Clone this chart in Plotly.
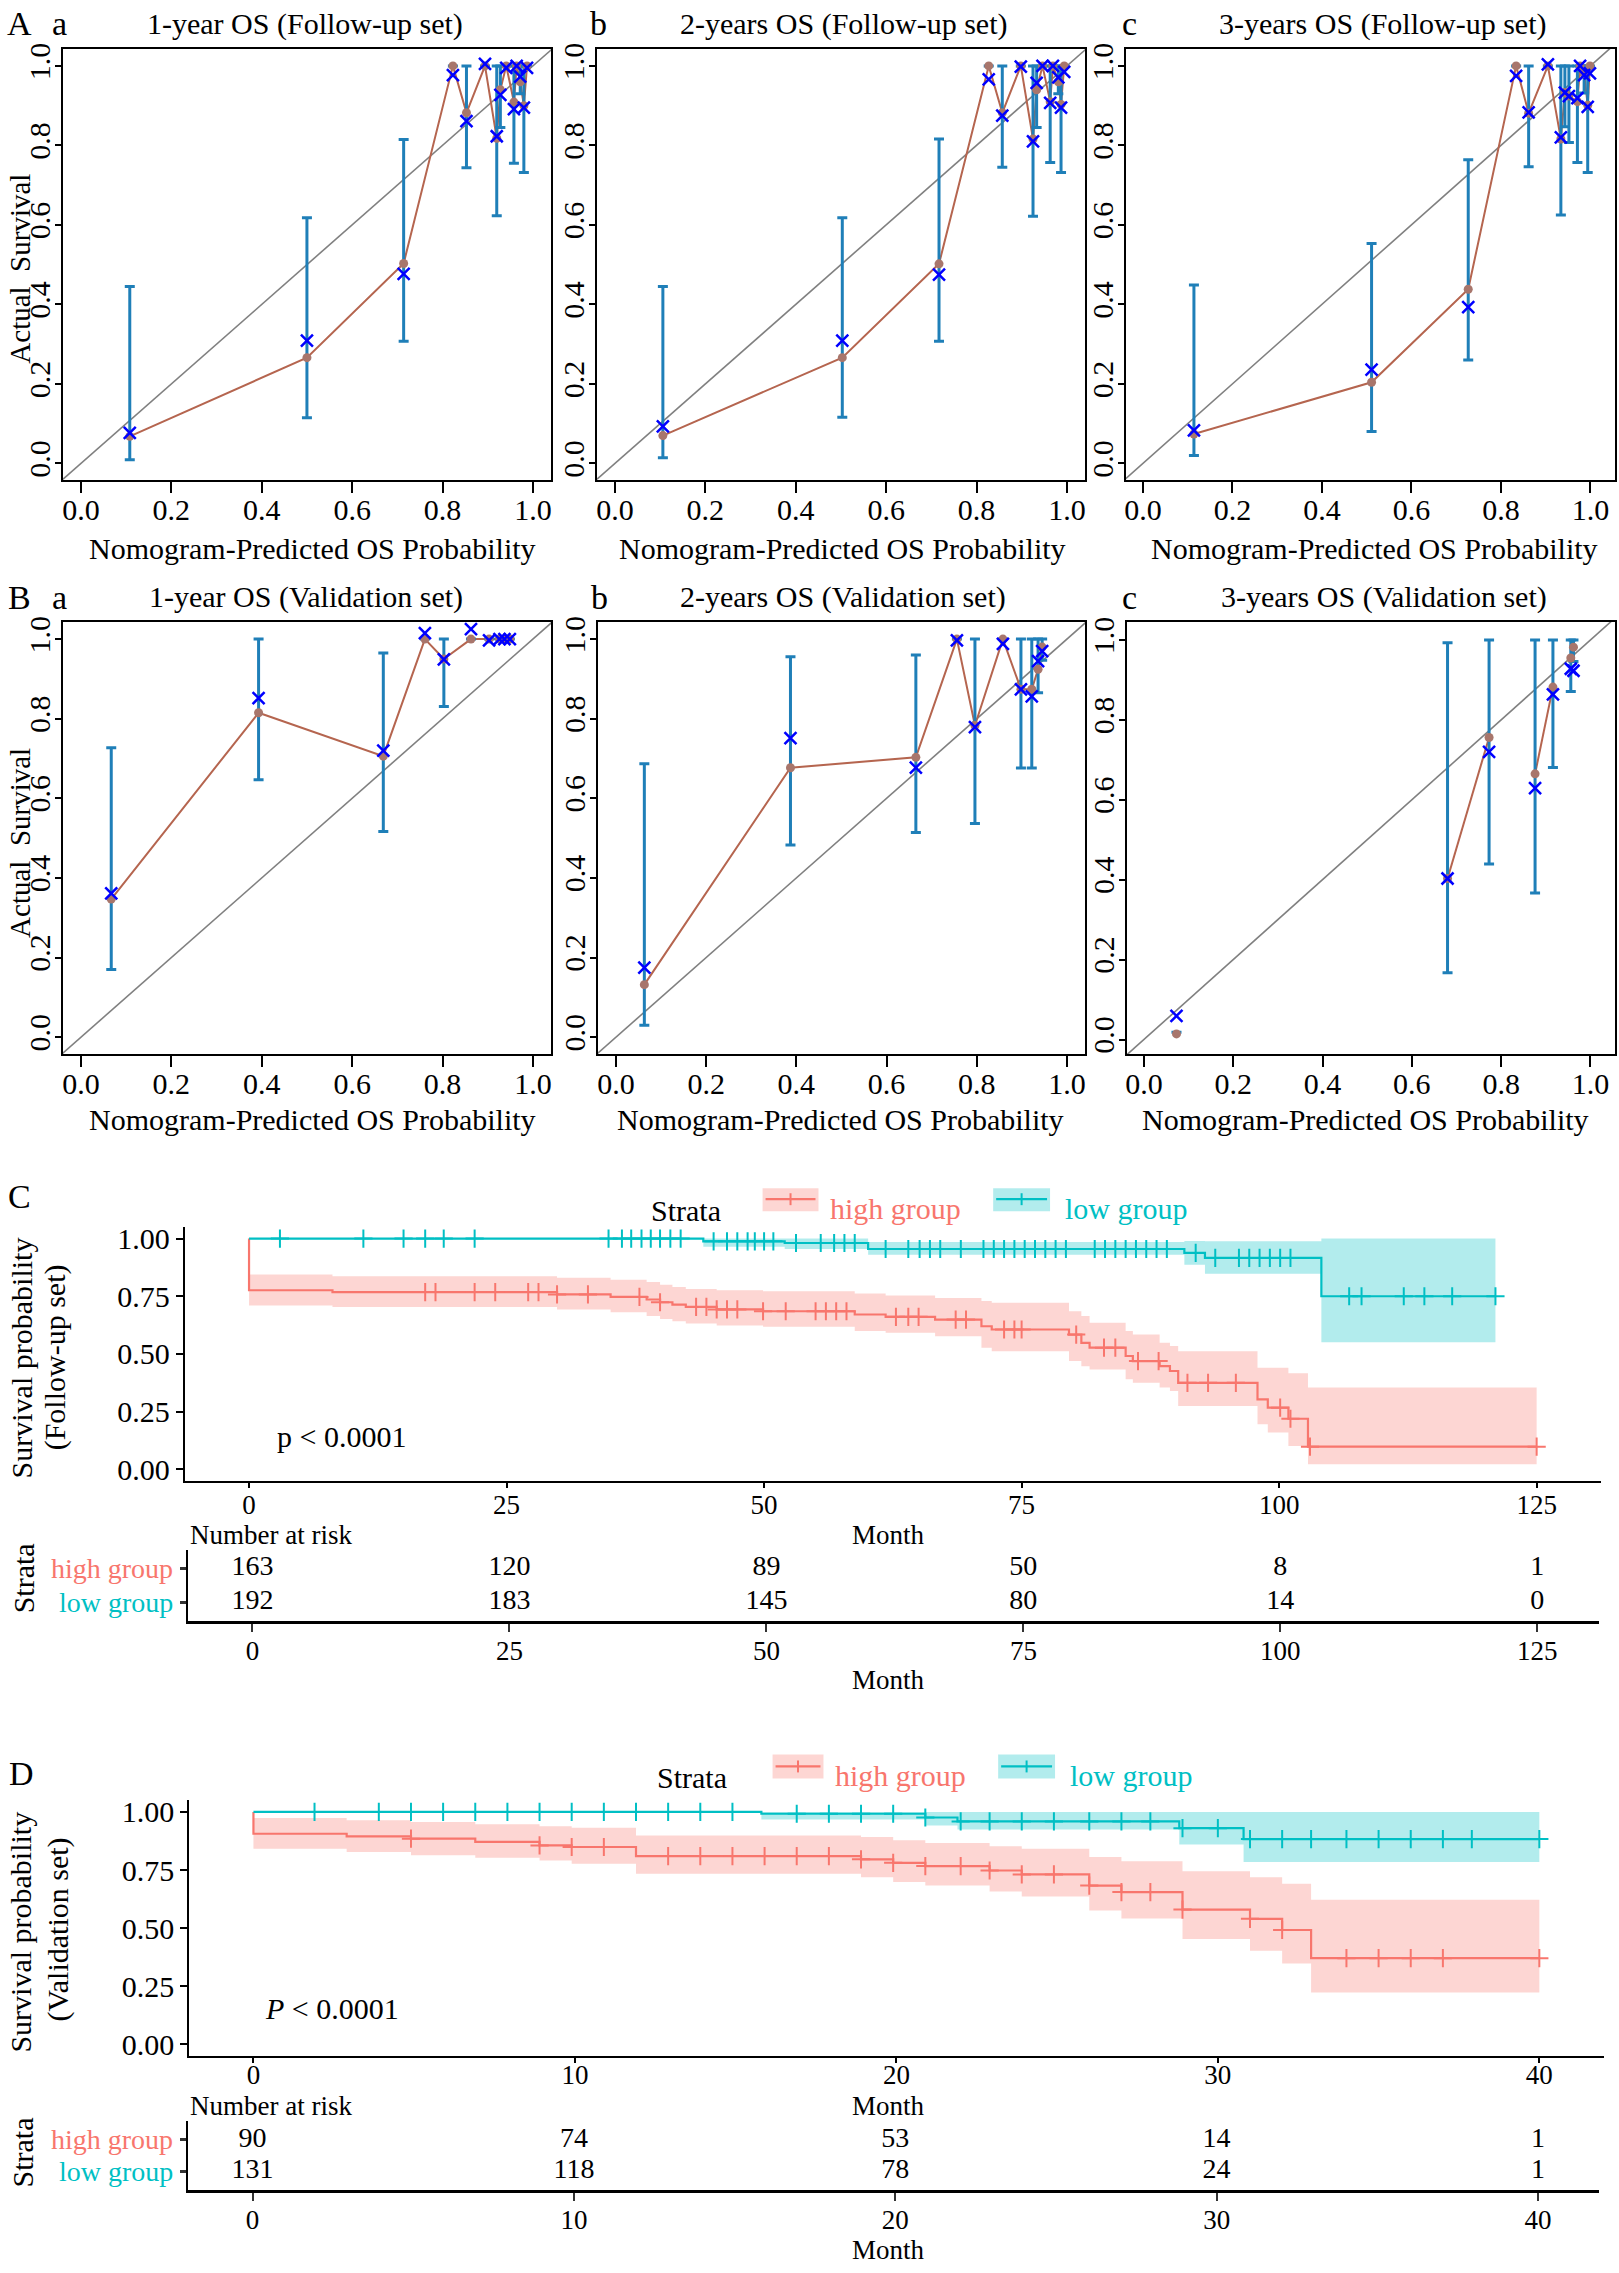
import numpy as np
import plotly.graph_objects as go

W, H = 1619, 2273
FONT = "Liberation Serif"
BROWN = "#b5654f"
DOT = "#a8766c"
ERR = "#1f7fb8"
XBLUE = "#0000ff"
RED = "#F8766D"
TEAL = "#00BFC4"
RED_FILL = "rgba(248,118,109,0.3)"
TEAL_FILL = "rgba(0,191,196,0.3)"

# ---------------- calibration data (predicted, observed, KM estimate, CI) ----------------
aa_pred = [0.108, 0.500, 0.714, 0.823, 0.853, 0.894, 0.920, 0.928, 0.941, 0.958, 0.964, 0.972, 0.980, 0.987]
aa_obs = [0.068, 0.266, 0.503, 1.0, 0.882, 1.0, 0.818, 0.940, 1.0, 0.909, 1.0, 0.960, 0.900, 1.0]
aa_km = [0.077, 0.309, 0.477, 0.977, 0.861, 1.005, 0.823, 0.927, 0.995, 0.891, 1.0, 0.973, 0.895, 0.995]
aa_lo = [0.009, 0.115, 0.307, 1.0, 0.744, 1.0, 0.623, 0.845, 1.0, 0.755, 1.0, 0.930, 0.732, 1.0]
aa_hi = [0.445, 0.618, 0.815, 1.0, 1.0, 1.0, 1.0, 1.0, 1.0, 1.0, 1.0, 1.0, 1.0, 1.0]

ab_pred = [0.106, 0.503, 0.717, 0.827, 0.857, 0.898, 0.925, 0.933, 0.946, 0.963, 0.969, 0.981, 0.987, 0.994]
ab_obs = [0.070, 0.266, 0.502, 1.0, 0.882, 1.0, 0.816, 0.940, 1.0, 0.910, 1.0, 0.960, 0.903, 1.0]
ab_km = [0.093, 0.309, 0.475, 0.966, 0.875, 0.998, 0.810, 0.957, 1.0, 0.907, 1.0, 0.971, 0.895, 0.985]
ab_lo = [0.014, 0.116, 0.307, 1.0, 0.745, 1.0, 0.622, 0.845, 1.0, 0.757, 1.0, 0.930, 0.732, 1.0]
ab_hi = [0.445, 0.618, 0.816, 1.0, 1.0, 1.0, 1.0, 1.0, 1.0, 1.0, 1.0, 1.0, 1.0, 1.0]

ac_pred = [0.114, 0.511, 0.727, 0.834, 0.862, 0.905, 0.934, 0.943, 0.952, 0.971, 0.977, 0.986, 0.994, 0.999]
ac_obs = [0.074, 0.204, 0.438, 1.0, 0.881, 1.0, 0.816, 0.933, 0.924, 0.910, 1.0, 0.980, 0.901, 1.0]
ac_km = [0.083, 0.236, 0.393, 0.975, 0.883, 1.004, 0.820, 0.933, 0.924, 0.919, 1.0, 0.977, 0.897, 0.981]
ac_lo = [0.020, 0.080, 0.260, 1.0, 0.746, 1.0, 0.625, 0.847, 0.807, 0.757, 1.0, 0.932, 0.732, 1.0]
ac_hi = [0.449, 0.553, 0.764, 1.0, 1.0, 1.0, 1.0, 1.0, 1.0, 1.0, 1.0, 1.0, 1.0, 1.0]

ba_pred = [0.067, 0.393, 0.669, 0.761, 0.803, 0.863, 0.903, 0.926, 0.937, 0.949]
ba_obs = [0.347, 0.815, 0.706, 1.0, 0.950, 1.0, 1.0, 1.0, 1.0, 1.0]
ba_km = [0.361, 0.852, 0.720, 1.015, 0.949, 1.025, 0.997, 1.0, 1.0, 1.0]
ba_lo = [0.170, 0.647, 0.517, 1.0, 0.831, 1.0, 1.0, 1.0, 1.0, 1.0]
ba_hi = [0.727, 1.0, 0.965, 1.0, 1.0, 1.0, 1.0, 1.0, 1.0, 1.0]

bb_pred = [0.063, 0.387, 0.665, 0.756, 0.796, 0.858, 0.898, 0.922, 0.936, 0.945]
bb_obs = [0.132, 0.677, 0.703, 1.0, 0.783, 1.0, 0.874, 0.874, 0.924, 0.980]
bb_km = [0.175, 0.751, 0.677, 0.997, 0.779, 0.988, 0.874, 0.856, 0.945, 0.970]
bb_lo = [0.030, 0.483, 0.514, 1.0, 0.537, 1.0, 0.676, 0.676, 0.865, 0.947]
bb_hi = [0.687, 0.956, 0.960, 1.0, 1.0, 1.0, 1.0, 1.0, 1.0, 1.0]

bc_pred = [0.073, 0.680, 0.773, 0.876, 0.916, 0.956, 0.962]
bc_obs = [0.014, 0.403, 0.756, 0.665, 0.882, 0.955, 0.982]
bc_km = [0.059, 0.403, 0.720, 0.629, 0.864, 0.928, 0.923]
bc_lo = [0.018, 0.167, 0.439, 0.367, 0.681, 0.871, 0.946]
bc_hi = [0.018, 0.993, 1.0, 1.0, 1.0, 1.0, 1.0]
bc_grp = [0, 1, 1, 2, 2, 3, 3]

# ---------------- Kaplan-Meier data ----------------
c_hi_t = [0, 0, 8.1, 29.9, 35.1, 38.6, 39.9, 41.1, 42.4, 45.4, 49.9, 58.8, 61.8, 66.6, 71.1, 72.1,
          79.6, 80.8, 81.6, 85.1, 85.8, 88.4, 89.4, 90.2, 97.9, 98.9, 100.9, 102.8]
c_hi_s = [1.0, 0.776, 0.768, 0.758, 0.747, 0.736, 0.724, 0.714, 0.704, 0.693, 0.685, 0.671, 0.661, 0.649,
          0.620, 0.606, 0.584, 0.548, 0.527, 0.491, 0.469, 0.447, 0.426, 0.375, 0.303, 0.267, 0.219, 0.098]
c_hi_lo = [1.0, 0.710, 0.704, 0.693, 0.681, 0.664, 0.652, 0.642, 0.632, 0.623, 0.618, 0.599, 0.592, 0.577,
           0.527, 0.512, 0.469, 0.447, 0.433, 0.390, 0.375, 0.354, 0.339, 0.274, 0.195, 0.159, 0.101, 0.022]
c_hi_up = [1.0, 0.844, 0.837, 0.830, 0.822, 0.812, 0.800, 0.790, 0.782, 0.776, 0.772, 0.762, 0.753, 0.743,
           0.729, 0.722, 0.685, 0.664, 0.635, 0.599, 0.584, 0.548, 0.534, 0.512, 0.440, 0.440, 0.416, 0.354]
c_hi_end = 125.0
c_hi_cens = [17.1, 18.1, 21.9, 23.9, 27.1, 28.1, 29.9, 32.9, 37.9, 39.9, 43.4, 44.4, 45.4, 46.4, 47.4, 49.9,
             52.1, 55.0, 56.0, 57.0, 58.0, 62.8, 64.0, 65.0, 68.6, 69.6, 73.3, 74.3, 75.0, 80.3, 83.0, 84.1,
             86.3, 88.3, 91.1, 93.1, 95.8, 100.1, 101.1, 103.0, 125.0]

c_lo_t = [0, 44.1, 52.0, 60.1, 90.8, 92.8, 104.1]
c_lo_s = [1.0, 0.988, 0.981, 0.955, 0.938, 0.916, 0.750]
c_lo_lo = [1.0, 0.965, 0.955, 0.930, 0.887, 0.848, 0.551]
c_lo_up = [1.0, 1.0, 1.0, 0.985, 0.990, 0.988, 1.0]
c_lo_end = 121.0
c_lo_cens = [3.0, 11.1, 15.0, 17.1, 18.9, 21.9, 34.9, 36.2, 37.1, 38.1, 39.0, 39.9, 40.9, 41.9, 45.1, 46.4,
             47.4, 48.4, 49.1, 50.0, 50.9, 53.1, 55.5, 56.8, 57.8, 58.8, 61.8, 64.0, 65.1, 66.1, 67.1, 69.1,
             71.3, 72.3, 73.3, 74.3, 75.3, 76.3, 77.3, 78.3, 79.3, 82.1, 83.1, 84.1, 85.1, 86.1, 87.1, 88.1,
             89.1, 91.9, 93.8, 96.1, 97.1, 98.1, 99.1, 100.1, 101.1, 106.8, 108.0, 112.1, 114.1, 116.8, 121.0]

d_hi_t = [0, 0, 2.9, 4.9, 6.9, 8.9, 9.9, 11.9, 18.9, 19.9, 20.9, 22.9, 23.9, 26.0, 27.0, 28.9, 31.0, 32.0, 32.9]
d_hi_s = [1.0, 0.906, 0.895, 0.885, 0.871, 0.856, 0.849, 0.810, 0.796, 0.781, 0.767, 0.748, 0.731, 0.683,
          0.655, 0.580, 0.540, 0.492, 0.371]
d_hi_lo = [1.0, 0.842, 0.827, 0.813, 0.803, 0.791, 0.777, 0.734, 0.719, 0.698, 0.683, 0.658, 0.636, 0.576,
           0.542, 0.453, 0.403, 0.348, 0.223]
d_hi_up = [1.0, 0.974, 0.964, 0.957, 0.947, 0.938, 0.932, 0.899, 0.892, 0.878, 0.866, 0.852, 0.842, 0.806,
           0.788, 0.745, 0.719, 0.691, 0.622]
d_hi_end = 40.0
d_hi_cens = [4.9, 8.9, 9.9, 10.9, 12.9, 13.9, 14.9, 15.9, 16.9, 17.9, 18.9, 19.9, 20.9, 22.0, 22.9, 23.9,
             24.9, 26.0, 27.0, 27.9, 28.9, 31.0, 32.0, 34.0, 35.0, 36.0, 37.0, 40.0]

d_lo_t = [0, 15.8, 20.9, 21.9, 28.8, 30.8]
d_lo_s = [1.0, 0.992, 0.976, 0.959, 0.930, 0.883]
d_lo_lo = [1.0, 0.967, 0.942, 0.924, 0.860, 0.784]
d_lo_up = [1.0, 1.0, 1.0, 1.0, 1.0, 1.0]
d_lo_end = 40.0
d_lo_cens = [1.9, 3.9, 4.9, 5.9, 6.9, 7.9, 8.9, 9.9, 10.9, 11.9, 12.9, 13.9, 14.9, 16.9, 17.9, 18.9, 19.9,
             20.9, 22.0, 22.9, 23.9, 24.9, 26.0, 27.0, 27.9, 28.9, 30.0, 31.0, 32.0, 32.9, 34.0, 35.0, 36.0,
             37.0, 37.9, 40.0]

# ---------------- number at risk ----------------
c_risk_t = [0, 25, 50, 75, 100, 125]
c_risk_hi = [163, 120, 89, 50, 8, 1]
c_risk_lo = [192, 183, 145, 80, 14, 0]
d_risk_t = [0, 10, 20, 30, 40]
d_risk_hi = [90, 74, 53, 14, 1]
d_risk_lo = [131, 118, 78, 24, 1]


def fx(px):
    return px / W


def fy(py):
    return 1 - py / H


def ax(kind, n):
    return kind + ("axis" if n == 1 else "axis%d" % n)


def ref(kind, n):
    return kind if n == 1 else "%s%d" % (kind, n)


fig = go.Figure()


def note(text, x, y, size=30, xanchor="center", yanchor="middle", angle=0, color="black"):
    fig.add_annotation(text=text, x=fx(x), y=fy(y), xref="paper", yref="paper", showarrow=False,
                       xanchor=xanchor, yanchor=yanchor, textangle=angle,
                       font=dict(family=FONT, size=size, color=color))


def add_calib(n, pred, obs, km, lo, hi, grp=None):
    xa, ya = ref("x", n), ref("y", n)
    fig.add_trace(go.Scatter(x=[-0.2, 1.2], y=[-0.2, 1.2], mode="lines",
                             line=dict(color="#808080", width=1.6), xaxis=xa, yaxis=ya))
    if grp is None:
        grp = [0] * len(pred)
    lx, ly = [], []
    for i in range(len(pred)):
        if i > 0 and grp[i] != grp[i - 1]:
            lx.append(None)
            ly.append(None)
        lx.append(pred[i])
        ly.append(obs[i])
    fig.add_trace(go.Scatter(x=lx, y=ly, mode="lines", line=dict(color=BROWN, width=2),
                             connectgaps=False, xaxis=xa, yaxis=ya))
    lo = np.array(lo)
    hi = np.array(hi)
    fig.add_trace(go.Scatter(x=pred, y=lo, mode="markers", marker=dict(size=1, color="rgba(0,0,0,0)"),
                             error_y=dict(type="data", symmetric=False, array=hi - lo,
                                          arrayminus=np.zeros(len(lo)), color=ERR, thickness=3, width=5),
                             xaxis=xa, yaxis=ya))
    fig.add_trace(go.Scatter(x=pred, y=obs, mode="markers", marker=dict(size=9, color=DOT),
                             xaxis=xa, yaxis=ya))
    fig.add_trace(go.Scatter(x=pred, y=km, mode="markers",
                             marker=dict(symbol="x-thin", size=12, line=dict(width=2.5, color=XBLUE)),
                             xaxis=xa, yaxis=ya))


def step_at(times, surv, t):
    i = np.searchsorted(np.array(times), t, side="right") - 1
    return np.array(surv)[i]


def add_km(n, times, surv, lo, up, t_end, cens, color, fill):
    xa, ya = ref("x", n), ref("y", n)
    tx = list(times) + [t_end]
    fig.add_trace(go.Scatter(x=tx, y=list(lo) + [lo[-1]], mode="lines", line=dict(width=0, shape="hv"),
                             xaxis=xa, yaxis=ya))
    fig.add_trace(go.Scatter(x=tx, y=list(up) + [up[-1]], mode="lines", line=dict(width=0, shape="hv"),
                             fill="tonexty", fillcolor=fill, xaxis=xa, yaxis=ya))
    fig.add_trace(go.Scatter(x=tx, y=list(surv) + [surv[-1]], mode="lines",
                             line=dict(color=color, width=2.2, shape="hv"), xaxis=xa, yaxis=ya))
    cy = [step_at(times, surv, t) for t in cens]
    fig.add_trace(go.Scatter(x=cens, y=cy, mode="markers",
                             marker=dict(symbol="cross-thin", size=13, line=dict(width=2, color=color)),
                             xaxis=xa, yaxis=ya))


def add_table(n, times, hi, lo):
    xa, ya = ref("x", n), ref("y", n)
    fig.add_trace(go.Scatter(x=times, y=[2] * len(times), mode="text", text=[str(v) for v in hi],
                             textfont=dict(family=FONT, size=28, color="black"), xaxis=xa, yaxis=ya))
    fig.add_trace(go.Scatter(x=times, y=[1] * len(times), mode="text", text=[str(v) for v in lo],
                             textfont=dict(family=FONT, size=28, color="black"), xaxis=xa, yaxis=ya))


tick_font = dict(family=FONT, size=30, color="black")
km_tick_font = dict(family=FONT, size=27, color="black")
axes = {}


def cal_axes(n, xdom, ydom, xr, yr):
    axes[ax("x", n)] = dict(domain=[fx(xdom[0]), fx(xdom[1])], range=xr, anchor=ref("y", n),
                            tick0=0, dtick=0.2, tickformat=".1f", ticks="outside", ticklen=11,
                            tickwidth=2, tickcolor="black", showline=True, linewidth=2,
                            linecolor="black", mirror=True, showgrid=False, zeroline=False,
                            tickfont=tick_font, ticklabelstandoff=-9)
    axes[ax("y", n)] = dict(domain=[fy(ydom[1]), fy(ydom[0])], range=yr, anchor=ref("x", n),
                            tick0=0, dtick=0.2, tickformat=".1f", ticks="outside", ticklen=6,
                            tickwidth=2, tickcolor="black", showline=True, linewidth=2,
                            linecolor="black", mirror=True, showgrid=False, zeroline=False,
                            tickangle=-90, tickfont=tick_font, ticklabelstandoff=-7)


def km_axes(n, xdom, ydom, xr, dt, standoff):
    axes[ax("x", n)] = dict(domain=[fx(xdom[0]), fx(xdom[1])], range=xr, anchor=ref("y", n),
                            tick0=0, dtick=dt, ticks="outside", ticklen=5, tickwidth=2,
                            tickcolor="black", showline=True, linewidth=2, linecolor="black",
                            showgrid=False, zeroline=False, tickfont=km_tick_font,
                            ticklabelstandoff=standoff)
    axes[ax("y", n)] = dict(domain=[fy(ydom[1]), fy(ydom[0])], range=[-0.05, 1.05], anchor=ref("x", n),
                            tick0=0, dtick=0.25, tickformat=".2f", ticks="outside", ticklen=7,
                            tickwidth=2, tickcolor="black", showline=True, linewidth=2,
                            linecolor="black", showgrid=False, zeroline=False, tickfont=tick_font)


def tab_axes(n, xdom, ydom, xr, dt, yr):
    axes[ax("x", n)] = dict(domain=[fx(xdom[0]), fx(xdom[1])], range=xr, anchor=ref("y", n),
                            tick0=0, dtick=dt, ticks="outside", ticklen=8, tickwidth=2,
                            tickcolor="#333333", showline=True, linewidth=3, linecolor="black",
                            showgrid=False, zeroline=False, tickfont=km_tick_font, ticklabelstandoff=-5)
    axes[ax("y", n)] = dict(domain=[fy(ydom[1]), fy(ydom[0])], range=yr, anchor=ref("x", n),
                            tickvals=[1, 2], ticktext=["", ""], ticks="outside", ticklen=6, tickwidth=3,
                            tickcolor="#333333", showline=True, linewidth=2, linecolor="black",
                            showgrid=False, zeroline=False)


# calibration panels
cal_axes(1, (61, 550), (43, 476), [-0.04, 1.04], [-0.041, 1.043])
cal_axes(2, (596, 1085), (43, 476), [-0.04, 1.04], [-0.041, 1.043])
cal_axes(3, (1126, 1616), (43, 476), [-0.038, 1.055], [-0.041, 1.043])
cal_axes(4, (61, 550), (619, 1053), [-0.04, 1.04], [-0.042, 1.043])
cal_axes(5, (597, 1085), (619, 1053), [-0.04, 1.04], [-0.042, 1.043])
cal_axes(6, (1127, 1616), (619, 1053), [-0.038, 1.055], [-0.036, 1.045])

add_calib(1, aa_pred, aa_obs, aa_km, aa_lo, aa_hi)
add_calib(2, ab_pred, ab_obs, ab_km, ab_lo, ab_hi)
add_calib(3, ac_pred, ac_obs, ac_km, ac_lo, ac_hi)
add_calib(4, ba_pred, ba_obs, ba_km, ba_lo, ba_hi)
add_calib(5, bb_pred, bb_obs, bb_km, bb_lo, bb_hi)
add_calib(6, bc_pred, bc_obs, bc_km, bc_lo, bc_hi, bc_grp)

# KM panels + risk tables
km_axes(7, (183, 1602), (1227, 1482), [-6.25, 131.25], 25, -6)
tab_axes(8, (186, 1600), (1552, 1623), [-6.3, 131.0], 25, [0.45, 2.53])
km_axes(9, (187.5, 1604.6), (1803, 2060), [-2, 42], 10, -11)
tab_axes(10, (186, 1600), (2125, 2195), [-2.02, 41.9], 10, [0.40, 2.60])

add_km(7, c_hi_t, c_hi_s, c_hi_lo, c_hi_up, c_hi_end, c_hi_cens, RED, RED_FILL)
add_km(7, c_lo_t, c_lo_s, c_lo_lo, c_lo_up, c_lo_end, c_lo_cens, TEAL, TEAL_FILL)
add_km(9, d_hi_t, d_hi_s, d_hi_lo, d_hi_up, d_hi_end, d_hi_cens, RED, RED_FILL)
add_km(9, d_lo_t, d_lo_s, d_lo_lo, d_lo_up, d_lo_end, d_lo_cens, TEAL, TEAL_FILL)
add_table(8, c_risk_t, c_risk_hi, c_risk_lo)
add_table(10, d_risk_t, d_risk_hi, d_risk_lo)

# ---------------- text ----------------
titles = [("1-year OS (Follow-up set)", 304, 18), ("2-years OS (Follow-up set)", 843, 18),
          ("3-years OS (Follow-up set)", 1383, 18), ("1-year OS (Validation set)", 305, 594),
          ("2-years OS (Validation set)", 843, 594), ("3-years OS (Validation set)", 1385, 594)]
for t, x, y in titles:
    note(t, x, y)
for x, y in [(311, 545), (842, 545), (1375, 545), (311, 1119), (840, 1119), (1366, 1119)]:
    note("Nomogram-Predicted OS Probability", x, y)
note("Actual  Survival", 18, 264, size=29, angle=-90)
note("Actual  Survival", 18, 841, size=29, angle=-90)
for t, x, y in [("A", 18, 18), ("a", 58, 18), ("b", 598, 18), ("c", 1130, 18),
                ("B", 18, 594), ("a", 58, 594), ("b", 599, 594), ("c", 1130, 594),
                ("C", 18, 1196), ("D", 20, 1776)]:
    note(t, x, y, size=34)

note("Survival probability", 19, 1358, angle=-90)
note("(Follow-up set)", 54, 1358, angle=-90)
note("Survival probability", 19, 1935, angle=-90)
note("(Validation set)", 56, 1933, angle=-90)
note("p &lt; 0.0001", 274, 1437, xanchor="left")
note("<i>P</i> &lt; 0.0001", 261, 2012, xanchor="left")

for y_lab in [1536, 2110]:
    note("Month", 888, y_lab, size=27)
    note("Number at risk", 186, y_lab, size=27, xanchor="left")
note("Month", 888, 1682, size=27)
note("Month", 888, 2255, size=27)
for yh, yl, ys in [(1570, 1604, 1580), (2144, 2176, 2157)]:
    note("high group", 173, yh, size=28, xanchor="right", color=RED)
    note("low group", 173, yl, size=28, xanchor="right", color=TEAL)
    note("Strata", 21, ys, angle=-90)

# legends
shapes = []
for ytop, ybot, yline, ytext, hx, lx in [(1188, 1211, 1199, 1208, (762, 818), (993, 1050)),
                                        (1757, 1781, 1769, 1778, (772, 823), (998, 1055))]:
    for (x0, x1), col, fill in [(hx, RED, RED_FILL), (lx, TEAL, TEAL_FILL)]:
        shapes.append(dict(type="rect", xref="paper", yref="paper", x0=fx(x0), x1=fx(x1),
                           y0=fy(ybot), y1=fy(ytop), fillcolor=fill, line=dict(width=0)))
        shapes.append(dict(type="line", xref="paper", yref="paper", x0=fx(x0 + 3), x1=fx(x1 - 3),
                           y0=fy(yline), y1=fy(yline), line=dict(color=col, width=2.2)))
        xm = (x0 + x1) / 2
        shapes.append(dict(type="line", xref="paper", yref="paper", x0=fx(xm), x1=fx(xm),
                           y0=fy(yline - 6), y1=fy(yline + 6), line=dict(color=col, width=2)))
    note("high group", hx[1] + 10, ytext, xanchor="left", color=RED)
    note("low group", lx[1] + 13, ytext, xanchor="left", color=TEAL)
note("Strata", 685, 1210)
note("Strata", 691, 1780)

fig.update_layout(width=W, height=H, margin=dict(l=0, r=0, t=0, b=0), showlegend=False,
                  plot_bgcolor="white", paper_bgcolor="white",
                  font=dict(family=FONT, size=30, color="black"), shapes=shapes, **axes)

fig.write_html("out.html", config={"displayModeBar": False},
               post_script="document.body.style.margin='0px';")
